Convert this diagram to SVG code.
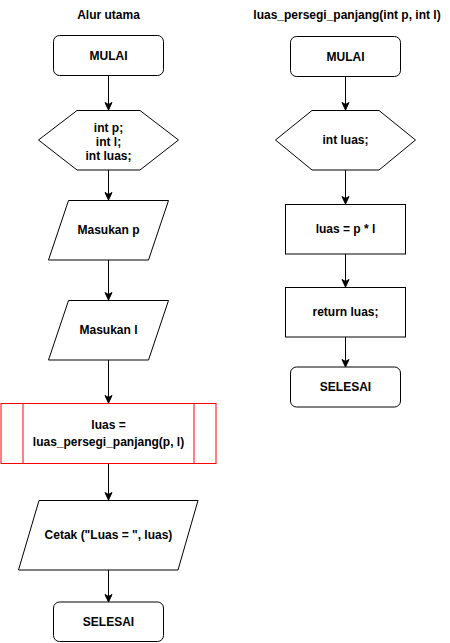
<svg xmlns="http://www.w3.org/2000/svg" width="450" height="643" viewBox="0 0 450 643">
<style>
.s{fill:#fff;stroke:#000;stroke-width:1}
.r{fill:#fff;stroke:#ff0000;stroke-width:1}
.t{font-family:"Liberation Sans",Arial,Helvetica,sans-serif;font-size:12px;font-weight:bold;fill:#000;text-anchor:middle;dominant-baseline:central}
.c{fill:none;stroke:#000;stroke-width:1}
</style>
<defs>
<marker id="a" markerUnits="userSpaceOnUse" markerWidth="10" markerHeight="10" refX="8" refY="4" orient="auto">
<path d="M0.5,0.5 L8,4 L0.5,7.5 L2.5,4 Z" fill="#000" stroke="#000" stroke-width="1"/>
</marker>
</defs>
<g id="title-left"><text class="t" x="108.5" y="15">Alur utama</text></g>
<g id="title-right"><text class="t" x="347" y="15">luas_persegi_panjang(int p, int l)</text></g>

<g id="connectors">
<path class="c" d="M108.5,75.5 V110" marker-end="url(#a)"/>
<path class="c" d="M108.5,170 V200" marker-end="url(#a)"/>
<path class="c" d="M108.5,260 V300" marker-end="url(#a)"/>
<path class="c" d="M108.5,360 V403" marker-end="url(#a)"/>
<path class="c" d="M108.5,463.5 V500" marker-end="url(#a)"/>
<path class="c" d="M108.5,570 V602" marker-end="url(#a)"/>
<path class="c" d="M345.5,76.5 V110" marker-end="url(#a)"/>
<path class="c" d="M345.5,170 V204" marker-end="url(#a)"/>
<path class="c" d="M345.5,254 V287" marker-end="url(#a)"/>
<path class="c" d="M345.5,337 V367" marker-end="url(#a)"/>
</g>

<g id="mulai-left">
<rect class="s" x="53.5" y="35.5" width="110" height="40" rx="6"/>
<text class="t" x="108.5" y="55.5">MULAI</text>
</g>
<g id="decl-left">
<polygon class="s" points="38.5,140 77,110.5 140,110.5 178.5,140 140,170 77,170"/>
<text class="t" x="108.5" y="128">int p;</text>
<text class="t" x="108.5" y="142">int l;</text>
<text class="t" x="108.5" y="156">int luas;</text>
</g>
<g id="input-p">
<polygon class="s" points="68.5,200.5 168.5,200.5 148.5,260 48.5,260"/>
<text class="t" x="108.5" y="230">Masukan p</text>
</g>
<g id="input-l">
<polygon class="s" points="68.5,300.5 168.5,300.5 148.5,360 48.5,360"/>
<text class="t" x="108.5" y="330">Masukan l</text>
</g>
<g id="call">
<rect class="r" x="1" y="403.5" width="215" height="60"/>
<line x1="23" y1="403.5" x2="23" y2="463.5" stroke="#ff0000"/>
<line x1="194" y1="403.5" x2="194" y2="463.5" stroke="#ff0000"/>
<text class="t" x="108.5" y="425">luas =</text>
<text class="t" x="108.5" y="442">luas_persegi_panjang(p, l)</text>
</g>
<g id="output">
<polygon class="s" points="39,500.5 198,500.5 178,570 18.5,570"/>
<text class="t" x="108.5" y="535">Cetak ("Luas = ", luas)</text>
</g>
<g id="selesai-left">
<rect class="s" x="53.5" y="602" width="110" height="39.5" rx="6"/>
<text class="t" x="108.5" y="621.5">SELESAI</text>
</g>

<g id="mulai-right">
<rect class="s" x="290.5" y="36.5" width="110" height="40" rx="6"/>
<text class="t" x="345.5" y="56.5">MULAI</text>
</g>
<g id="decl-right">
<polygon class="s" points="275.5,140 312,110.5 379,110.5 415.5,140 379,170 312,170"/>
<text class="t" x="345.5" y="140">int luas;</text>
</g>
<g id="calc">
<rect class="s" x="285.5" y="204.5" width="120" height="49.5"/>
<text class="t" x="345.5" y="229">luas = p * l</text>
</g>
<g id="return">
<rect class="s" x="285.5" y="287.5" width="120" height="49.5"/>
<text class="t" x="345.5" y="312">return luas;</text>
</g>
<g id="selesai-right">
<rect class="s" x="290.5" y="367" width="110" height="40" rx="6"/>
<text class="t" x="345.5" y="387">SELESAI</text>
</g>
</svg>
